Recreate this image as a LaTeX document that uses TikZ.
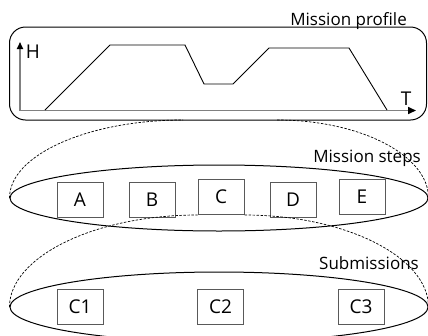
\documentclass[tikz,border=0pt]{standalone}
\usepackage{fontspec}
\setmainfont{Open Sans}
\usetikzlibrary{shapes.geometric,arrows.meta}
\begin{document}
\begin{tikzpicture}[x=1pt,y=-1pt,
  lbl/.style={font=\fontsize{17}{20}\selectfont, inner sep=0pt},
  axlbl/.style={font=\fontsize{19}{22}\selectfont, inner sep=0pt},
  stepbox/.style={draw=black!65, line width=1pt, minimum width=46pt, minimum height=35pt, inner sep=0pt, font=\fontsize{19}{22}\selectfont},
  groupell/.style={draw=black, line width=1pt, ellipse, inner sep=0pt, minimum width=418pt},
  zoomline/.style={draw=black, line width=0.7pt, dash pattern=on 2.5pt off 1.5pt},
  axis/.style={draw=black!50, line width=1.6pt}]
\useasboundingbox (0,0) rectangle (428,335);
\clip (0,0) rectangle (428,335);
% mission profile frame
\node[draw=black, line width=1pt, rounded corners=16pt, minimum width=417pt, minimum height=93pt, inner sep=0pt] (profile) at (218,73.5) {};
\node[lbl, anchor=base east] (ptitle) at (407,25) {Mission profile};
% axes
\coordinate (o) at (20,110.5);
\coordinate (ytip) at (20,42);
\coordinate (xtip) at (416,110.5);
\draw[axis, -{Triangle[length=7pt,width=6pt,color=black]}] (o) -- (ytip);
\draw[axis, -{Triangle[length=8pt,width=7pt,color=black]}] (o) -- (xtip);
\node[axlbl] (hl) at (33,52) {H};
\node[axlbl] (tl) at (406,99) {T};
% profile curve
\draw[black, line width=0.9pt] (45,110) -- (110,45) -- (185,45) -- (204,84) -- (233,84) -- (269,48) -- (349,48) -- (387,110);
% mission steps
\node[groupell, minimum height=66pt] (steps) at (219,198) {};
\node[lbl, anchor=base east] (stitle) at (421,162) {Mission steps};
\node[stepbox] (A) at (80,199.5) {A};
\node[stepbox] (B) at (152,199.5) {B};
\node[stepbox] (C) at (221,197) {C};
\node[stepbox] (D) at (293,199.5) {D};
\node[stepbox] (E) at (362,196.5) {E};
% zoom from profile to steps
\coordinate (zl) at (183,120);
\coordinate (zr) at (277,120);
\draw[zoomline] (steps.west) .. controls +(0,-43) and +(-95,0) .. (zl);
\draw[zoomline] (zr) .. controls +(83,0) and +(0,-43) .. (steps.east);
% submissions
\node[groupell, minimum height=70pt] (subs) at (219,307) {};
\node[lbl, anchor=base east] (subtitle) at (419,269) {Submissions};
\node[stepbox] (C1) at (80,306.5) {C1};
\node[stepbox] (C2) at (220.5,306.5) {C2};
\node[stepbox] (C3) at (361,306.5) {C3};
% zoom from C to submissions
\draw[zoomline] (subs.west) .. controls +(0,-50) and +(-103,0) .. (C.south west);
\draw[zoomline] (C.south east) .. controls +(101,0) and +(0,-50) .. (subs.east);
\end{tikzpicture}
\end{document}
